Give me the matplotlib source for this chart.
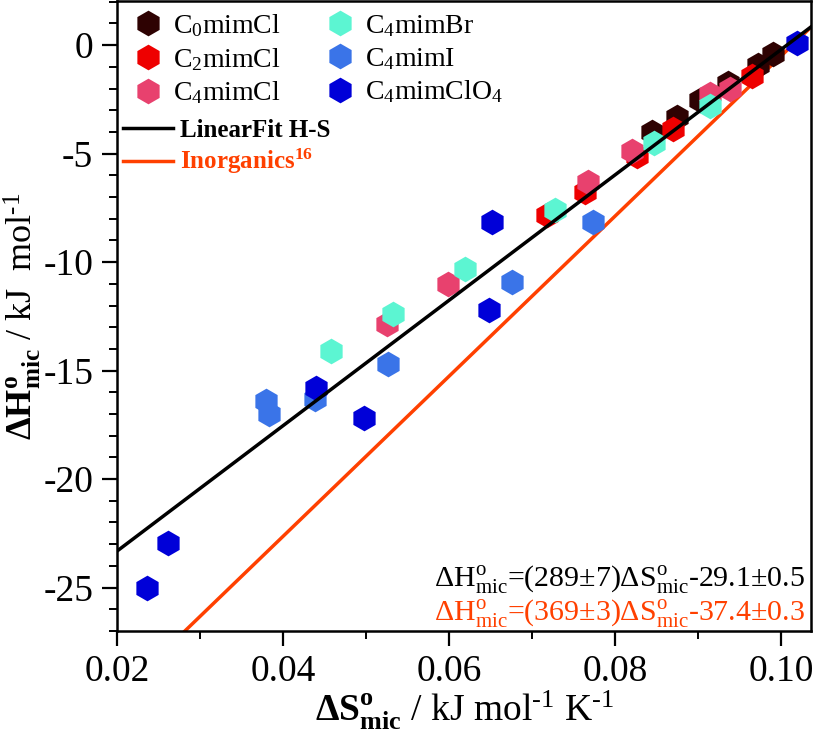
import numpy as np
import matplotlib
matplotlib.use('Agg')
import matplotlib.pyplot as plt
from matplotlib.lines import Line2D

plt.rcParams['font.family'] = ['Liberation Serif', 'DejaVu Serif']
plt.rcParams['mathtext.fontset'] = 'custom'
plt.rcParams['mathtext.rm'] = 'Liberation Serif'
plt.rcParams['mathtext.it'] = 'Liberation Serif:italic'
plt.rcParams['mathtext.bf'] = 'Liberation Serif:bold'
plt.rcParams['axes.unicode_minus'] = False

# Data (dS in kJ/mol/K, dH in kJ/mol)
c0_s = [0.0845, 0.0875, 0.0902, 0.0936, 0.0972, 0.0990]
c0_h = [-4.0, -3.3, -2.55, -1.75, -0.9, -0.4]
c2_s = [0.0718, 0.0764, 0.0826, 0.0870, 0.0965]
c2_h = [-7.85, -6.75, -5.1, -3.85, -1.4]
c4cl_s = [0.0525, 0.0599, 0.0767, 0.0820, 0.0914, 0.0939]
c4cl_h = [-12.85, -11.0, -6.3, -4.9, -2.25, -2.0]
c4br_s = [0.0458, 0.0533, 0.0619, 0.0728, 0.0847, 0.0914]
c4br_h = [-14.1, -12.4, -10.3, -7.6, -4.5, -2.8]
c4i_s = [0.0380, 0.0383, 0.0439, 0.0527, 0.0676, 0.0774]
c4i_h = [-16.4, -17.0, -16.3, -14.7, -10.9, -8.15]
c4clo4_s = [0.0236, 0.0261, 0.0440, 0.0498, 0.0648, 0.0652, 0.1019]
c4clo4_h = [-25.0, -22.95, -15.8, -17.2, -12.2, -8.15, 0.1]

names = [r'C$_0$mimCl', r'C$_2$mimCl', r'C$_4$mimCl',
         r'C$_4$mimBr', r'C$_4$mimI', r'C$_4$mimClO$_4$']
colors = ['#2e0202', '#ee0000', '#e8416e', '#5cf5d2', '#3a74e8', '#0000d8']

# fits: slope, intercept
fit_hs = (289, -29.1)
fit_inorg = (369, -37.4)

fig = plt.figure(figsize=(8.14, 7.32), dpi=100)
ax = fig.add_axes([0.1437, 0.138, 0.8526, 0.8605])

xmin, xmax = 0.02, 0.1036
ymin, ymax = -27, 2.03
xs = np.linspace(xmin, xmax, 50)
ax.plot(xs, fit_hs[0] * xs + fit_hs[1], color='black', lw=2.5, zorder=3)
ax.plot(xs, fit_inorg[0] * xs + fit_inorg[1], color='#ff4000', lw=2.5, zorder=1)

data = [(c0_s, c0_h), (c2_s, c2_h), (c4cl_s, c4cl_h),
        (c4br_s, c4br_h), (c4i_s, c4i_h), (c4clo4_s, c4clo4_h)]
handles = []
for (s, h), name, c in zip(data, names, colors):
    ln, = ax.plot(s, h, 'h', ms=18.5, color=c, mec='none', label=name, zorder=2)
    handles.append(ln)

ax.set_xlim(xmin, xmax)
ax.set_ylim(ymin, ymax)
ax.set_xticks([0.02, 0.04, 0.06, 0.08, 0.10])
ax.set_xticklabels(['0.02', '0.04', '0.06', '0.08', '0.10'])
ax.set_xticks(np.arange(0.03, 0.104, 0.02), minor=True)
ax.set_yticks([0, -5, -10, -15, -20, -25])
ax.set_yticks(np.arange(-27, 2.5, 1), minor=True)
ax.tick_params(which='major', direction='out', length=11, width=1.6, labelsize=27, pad=6)
ax.tick_params(which='minor', direction='out', length=6, width=1.4)
for sp in ax.spines.values():
    sp.set_linewidth(1.8)

hy = '\u2010'
ax.set_xlabel(r'$\mathbf{\Delta S^{o}_{mic}}$ / kJ mol$^{' + hy + r'1}$ K$^{' + hy + r'1}$',
              fontsize=27, labelpad=0)
ax.set_ylabel(r'$\mathbf{\Delta H^{o}_{mic}}$ / kJ  mol$^{' + hy + r'1}$', fontsize=26, labelpad=0)

leg1 = ax.legend(handles=handles, ncol=2, loc='upper left', frameon=False,
                 fontsize=20, bbox_to_anchor=(0.013, 0.996), handlelength=1.0,
                 handletextpad=0.4, columnspacing=1.63, labelspacing=0.25,
                 borderpad=0.3, borderaxespad=0)
ax.add_artist(leg1)
line_handles = [Line2D([], [], color='black', lw=2.5),
                Line2D([], [], color='#ff4000', lw=2.5)]
leg2 = ax.legend(line_handles, ['LinearFit H-S', r'Inorganics$^{\mathbf{16}}$'],
                 loc='upper left', frameon=False, bbox_to_anchor=(-0.002, 0.8245),
                 prop={'size': 18, 'weight': 'bold'}, handlelength=2.0,
                 handletextpad=0.28, labelspacing=0.2, borderpad=0.3, borderaxespad=0)
leg2.get_texts()[1].set_color('#ff4000')

ax.text(0.991, 0.082, r'$\Delta$H$^{\rm o}_{\rm mic}$=(289$\pm$7)$\Delta$S$^{\rm o}_{\rm mic}$-29.1$\pm$0.5',
        transform=ax.transAxes, ha='right', va='center', fontsize=21.5, color='black')
ax.text(0.991, 0.029, r'$\Delta$H$^{\rm o}_{\rm mic}$=(369$\pm$3)$\Delta$S$^{\rm o}_{\rm mic}$-37.4$\pm$0.3',
        transform=ax.transAxes, ha='right', va='center', fontsize=21.5, color='#ff4000')

fig.savefig('out.png', dpi=100)
